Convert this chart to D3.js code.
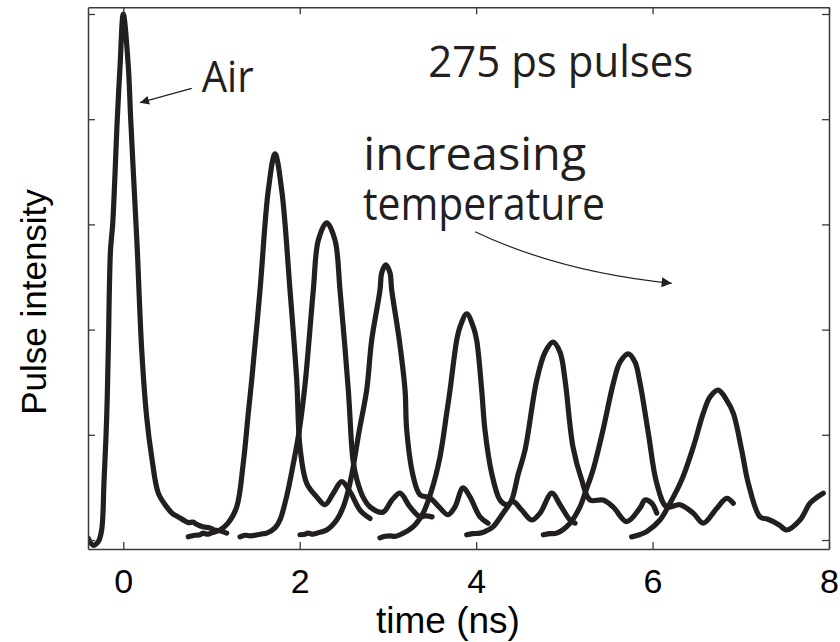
<!DOCTYPE html>
<html>
<head>
<meta charset="utf-8">
<script src="https://cdn.jsdelivr.net/npm/d3@7"></script>
<style>
  html, body { margin: 0; padding: 0; background: #fff; }
  svg { display: block; }
</style>
</head>
<body>
<svg id="chart" width="840" height="642"></svg>
<script>
// ---- data (time in ns, intensity normalised to the air pulse) ----
const xTicks = [0, 2, 4, 6, 8];
const yTicks = [0, 0.2, 0.4, 0.6, 0.8, 1.0];

const airPulse = [
  [-0.40,0.004],[-0.34,-0.010],[-0.283,-0.003],[-0.245,0.019],[-0.219,0.108],[-0.188,0.234],
  [-0.170,0.361],[-0.145,0.551],[-0.120,0.601],[-0.068,0.800],[-0.037,0.900],[0,1.0],
  [0.057,0.900],[0.084,0.800],[0.144,0.601],[0.159,0.551],[0.209,0.361],[0.265,0.234],
  [0.322,0.158],[0.397,0.089],[0.492,0.063],[0.560,0.050],[0.600,0.046],[0.643,0.042],
  [0.700,0.036],[0.740,0.033],[0.790,0.034],[0.832,0.030],[0.900,0.025],[0.983,0.023],
  [1.03,0.019],[1.08,0.018],[1.172,0.013]
];
const pulseT1 = [
  [0.737,0.006],[0.813,0.009],[0.870,0.010],[0.904,0.013],[0.960,0.011],[1.006,0.014],
  [1.096,0.019],[1.187,0.032],[1.286,0.063],[1.360,0.146],[1.417,0.241],[1.456,0.304],
  [1.550,0.475],[1.644,0.665],[1.720,0.734],[1.796,0.665],[1.890,0.475],[1.966,0.304],
  [2.003,0.177],[2.079,0.108],[2.192,0.082],[2.287,0.067],[2.381,0.089],[2.476,0.111],
  [2.570,0.092],[2.683,0.057],[2.797,0.041]
];
const pulseT2 = [
  [1.323,0.006],[1.380,0.009],[1.436,0.008],[1.527,0.010],[1.580,0.012],[1.626,0.013],
  [1.720,0.023],[1.776,0.038],[1.856,0.086],[1.925,0.143],[1.992,0.205],[2.060,0.295],
  [2.154,0.475],[2.211,0.570],[2.306,0.603],[2.400,0.570],[2.457,0.475],[2.551,0.285],
  [2.604,0.152],[2.649,0.114],[2.717,0.082],[2.797,0.063],[2.944,0.053],[3.046,0.076],
  [3.137,0.089],[3.250,0.063],[3.364,0.044],[3.430,0.046],[3.500,0.044]
];
const pulseT3 = [
  [2.003,0.010],[2.060,0.011],[2.094,0.013],[2.150,0.011],[2.192,0.013],[2.306,0.019],
  [2.419,0.038],[2.494,0.063],[2.551,0.095],[2.593,0.127],[2.672,0.205],[2.759,0.285],
  [2.816,0.380],[2.910,0.475],[2.930,0.508],[2.975,0.523],[3.023,0.508],[3.043,0.475],
  [3.129,0.380],[3.194,0.285],[3.213,0.209],[3.288,0.120],[3.364,0.086],[3.477,0.080],
  [3.590,0.061],[3.681,0.048],[3.760,0.063],[3.851,0.099],[3.930,0.082],[4.044,0.044],[4.135,0.032]
];
const pulseT4 = [
  [2.910,0.004],[2.970,0.007],[3.023,0.008],[3.080,0.007],[3.137,0.010],[3.284,0.025],
  [3.398,0.051],[3.496,0.095],[3.590,0.158],[3.666,0.241],[3.704,0.285],[3.780,0.380],
  [3.817,0.405],[3.894,0.430],[3.968,0.405],[4.006,0.380],[4.063,0.285],[4.100,0.209],
  [4.176,0.127],[4.270,0.076],[4.346,0.067],[4.421,0.073],[4.516,0.057],[4.630,0.038],
  [4.724,0.051],[4.857,0.089],[4.951,0.067],[5.064,0.038],[5.121,0.032]
];
const pulseT5 = [
  [3.893,0.010],[3.960,0.012],[4.044,0.013],[4.100,0.016],[4.191,0.025],[4.305,0.051],
  [4.403,0.076],[4.475,0.124],[4.554,0.171],[4.687,0.304],[4.781,0.357],[4.871,0.376],
  [4.951,0.357],[5.008,0.304],[5.098,0.177],[5.197,0.114],[5.291,0.076],[5.438,0.076],
  [5.552,0.063],[5.707,0.035],[5.858,0.061],[5.914,0.076],[5.990,0.070],[6.047,0.051]
];
const pulseT6 = [
  [4.761,0.010],[4.830,0.012],[4.913,0.013],[5.064,0.032],[5.177,0.063],[5.234,0.089],
  [5.325,0.133],[5.438,0.209],[5.555,0.298],[5.631,0.338],[5.725,0.354],[5.801,0.338],
  [5.858,0.298],[5.952,0.203],[6.047,0.108],[6.160,0.063],[6.311,0.067],[6.462,0.051],
  [6.575,0.032],[6.727,0.060],[6.840,0.079],[6.915,0.070]
];
const pulseT7 = [
  [5.763,0.006],[5.850,0.010],[5.933,0.016],[6.084,0.038],[6.198,0.070],[6.330,0.114],
  [6.462,0.177],[6.575,0.241],[6.651,0.272],[6.745,0.285],[6.840,0.266],[6.915,0.241],
  [7.010,0.171],[7.085,0.108],[7.218,0.044],[7.300,0.040],[7.369,0.035],[7.440,0.028],
  [7.521,0.019],[7.671,0.038],[7.785,0.070],[7.870,0.082],[7.935,0.089]
];
const traces = [airPulse, pulseT1, pulseT2, pulseT3, pulseT4, pulseT5, pulseT6, pulseT7];

// ---- layout ----
const svg = d3.select("#chart");
const pL = 88, pR = 829, pT = 7.3, pB = 549;
const x = d3.scaleLinear().domain([-0.4, 8]).range([pL, pR]);
const y = d3.scaleLinear().domain([-0.0171, 1.0127]).range([pB, pT]);
const ink = "#231f20";
const frame = "#3a3a3a";

const defs = svg.append("defs");
defs.append("clipPath").attr("id", "plotclip")
  .append("rect").attr("x", pL).attr("y", pT).attr("width", pR - pL).attr("height", pB - pT);

// curves
const line = d3.line().x(d => x(d[0])).y(d => y(d[1])).curve(d3.curveCatmullRom.alpha(0.5));
svg.append("g").attr("clip-path", "url(#plotclip)")
  .selectAll("path").data(traces).join("path")
  .attr("d", line)
  .attr("fill", "none").attr("stroke", ink).attr("stroke-width", 5.2)
  .attr("stroke-linejoin", "round").attr("stroke-linecap", "round");

// axes (ticks pointing inward, frame on all sides)
function styleAxis(g) {
  g.selectAll(".domain").attr("stroke", frame).attr("stroke-width", 1.5);
  g.selectAll(".tick line").attr("stroke", frame).attr("stroke-width", 1.3);
}
svg.append("g").attr("transform", `translate(0,${pB})`)
  .call(d3.axisBottom(x).tickValues(xTicks).tickSize(-7).tickSizeOuter(0).tickPadding(19.6).tickFormat(d3.format("d")))
  .call(styleAxis)
  .call(g => g.selectAll("text").attr("font-family", "Liberation Sans, Arial, sans-serif")
    .attr("font-size", 34).attr("fill", "#000"));
svg.append("g").attr("transform", `translate(0,${pT})`)
  .call(d3.axisTop(x).tickValues(xTicks).tickSize(-7).tickSizeOuter(0).tickFormat(""))
  .call(styleAxis);
svg.append("g").attr("transform", `translate(${pL},0)`)
  .call(d3.axisLeft(y).tickValues(yTicks).tickSize(-7).tickSizeOuter(0).tickFormat(""))
  .call(styleAxis);
svg.append("g").attr("transform", `translate(${pR},0)`)
  .call(d3.axisRight(y).tickValues(yTicks).tickSize(-7).tickSizeOuter(0).tickFormat(""))
  .call(styleAxis);

// axis titles
svg.append("text").attr("x", 448).attr("y", 633)
  .attr("text-anchor", "middle").attr("font-family", "Liberation Sans, Arial, sans-serif")
  .attr("font-size", 37).attr("fill", "#000").text("time (ns)");
svg.append("text").attr("transform", "translate(46,302) rotate(-90)")
  .attr("text-anchor", "middle").attr("font-family", "Liberation Sans, Arial, sans-serif")
  .attr("font-size", 35).attr("fill", "#000").text("Pulse intensity");

// annotations
const annFont = "Open Sans, sans-serif";
svg.append("text").attr("x", 201.7).attr("y", 91.7).attr("font-family", annFont).attr("font-size", 44)
  .attr("fill", ink).attr("textLength", 52).attr("lengthAdjust", "spacingAndGlyphs").text("Air");
svg.append("text").attr("x", 428.3).attr("y", 76.7).attr("font-family", annFont).attr("font-size", 44)
  .attr("fill", ink).attr("textLength", 265).attr("lengthAdjust", "spacingAndGlyphs").text("275 ps pulses");
svg.append("text").attr("x", 363.3).attr("y", 170).attr("font-family", annFont).attr("font-size", 45)
  .attr("fill", ink).attr("textLength", 223).attr("lengthAdjust", "spacingAndGlyphs").text("increasing");
svg.append("text").attr("x", 363).attr("y", 220).attr("font-family", annFont).attr("font-size", 45)
  .attr("fill", ink).attr("textLength", 242).attr("lengthAdjust", "spacingAndGlyphs").text("temperature");

// arrows
defs.append("marker").attr("id", "head").attr("viewBox", "0 0 10 10")
  .attr("refX", 10).attr("refY", 5).attr("markerWidth", 14).attr("markerHeight", 9)
  .attr("markerUnits", "userSpaceOnUse").attr("orient", "auto")
  .append("path").attr("d", "M0,0 L10,5 L0,10 Z").attr("fill", ink);
svg.append("path").attr("d", "M191.7,88.3 L140,102.7")
  .attr("fill", "none").attr("stroke", ink).attr("stroke-width", 1.2).attr("marker-end", "url(#head)");
defs.append("marker").attr("id", "head2").attr("viewBox", "0 0 10 10")
  .attr("refX", 10).attr("refY", 5).attr("markerWidth", 18).attr("markerHeight", 10)
  .attr("markerUnits", "userSpaceOnUse").attr("orient", "auto")
  .append("path").attr("d", "M0,0 L10,5 L0,10 Z").attr("fill", ink);
svg.append("path").attr("d", "M475,231.7 Q560,272 671.7,283.3")
  .attr("fill", "none").attr("stroke", ink).attr("stroke-width", 1.2).attr("marker-end", "url(#head2)");
</script>
</body>
</html>
